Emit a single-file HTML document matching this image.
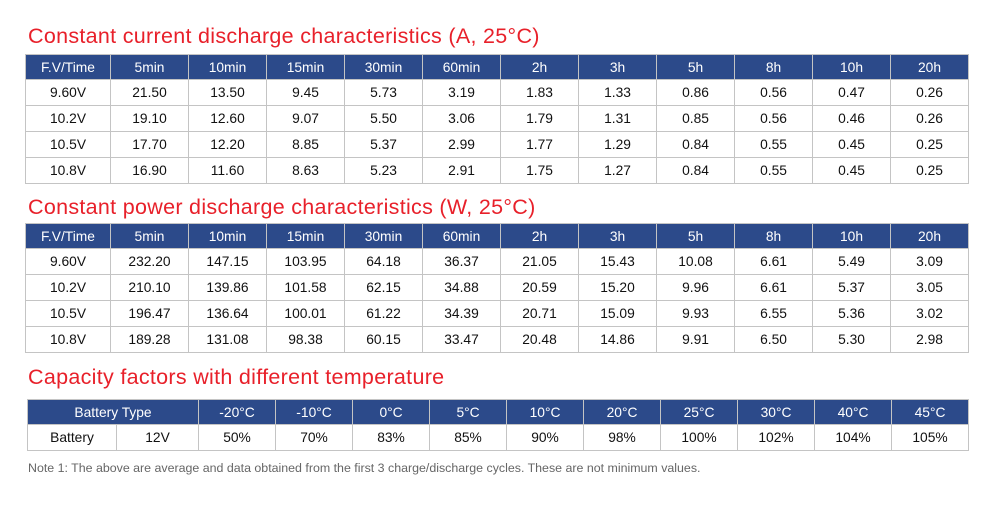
<!DOCTYPE html>
<html><head><meta charset="utf-8"><style>
body{margin:0;width:1000px;height:514px;background:#fff;font-family:"Liberation Sans",Arial,sans-serif;position:relative;overflow:hidden}
.t{position:absolute;left:28px;color:#e8202a;font-size:21.5px;margin:0;font-weight:normal;white-space:nowrap;letter-spacing:0.3px}
table{position:absolute;border-collapse:collapse;table-layout:fixed}
td,th{border:1px solid #c4c4c4;text-align:center;font-size:13.8px;padding:0;color:#111}
th{background:#2c4a8a;color:#fff;font-weight:normal;border-color:#c4c4c4}
.note{position:absolute;left:28px;top:461px;font-size:12.4px;color:#666;white-space:nowrap}
</style></head><body>
<h1 class="t" style="top:24px">Constant current discharge characteristics (A, 25°C)</h1>
<table id="t1" style="left:25px;top:54px;width:943px"></table>
<h1 class="t" style="top:195px">Constant power discharge characteristics (W, 25°C)</h1>
<table id="t2" style="left:25px;top:223px;width:943px"></table>
<h1 class="t" style="top:365px">Capacity factors with different temperature</h1>
<table id="t3" style="left:27px;top:399px;width:941px">
<colgroup><col style="width:89px"><col style="width:82px"><col span="10" style="width:77px"></colgroup>
<tr style="height:25px"><th colspan="2">Battery Type</th><th>-20°C</th><th>-10°C</th><th>0°C</th><th>5°C</th><th>10°C</th><th>20°C</th><th>25°C</th><th>30°C</th><th>40°C</th><th>45°C</th></tr>
<tr style="height:26px"><td>Battery</td><td>12V</td><td>50%</td><td>70%</td><td>83%</td><td>85%</td><td>90%</td><td>98%</td><td>100%</td><td>102%</td><td>104%</td><td>105%</td></tr>
</table>
<div class="note">Note 1: The above are average and data obtained from the first 3 charge/discharge cycles. These are not minimum values.</div>
<script>
const times=["5min","10min","15min","30min","60min","2h","3h","5h","8h","10h","20h"];
const voltages=["9.60V","10.2V","10.5V","10.8V"];
const currentVals=[
["21.50","13.50","9.45","5.73","3.19","1.83","1.33","0.86","0.56","0.47","0.26"],
["19.10","12.60","9.07","5.50","3.06","1.79","1.31","0.85","0.56","0.46","0.26"],
["17.70","12.20","8.85","5.37","2.99","1.77","1.29","0.84","0.55","0.45","0.25"],
["16.90","11.60","8.63","5.23","2.91","1.75","1.27","0.84","0.55","0.45","0.25"]];
const powerVals=[
["232.20","147.15","103.95","64.18","36.37","21.05","15.43","10.08","6.61","5.49","3.09"],
["210.10","139.86","101.58","62.15","34.88","20.59","15.20","9.96","6.61","5.37","3.05"],
["196.47","136.64","100.01","61.22","34.39","20.71","15.09","9.93","6.55","5.36","3.02"],
["189.28","131.08","98.38","60.15","33.47","20.48","14.86","9.91","6.50","5.30","2.98"]];
function build(id,vals){
  const t=document.getElementById(id);
  let h='<colgroup><col style="width:85px"><col span="11" style="width:78px"></colgroup>';
  h+='<tr style="height:25px"><th>F.V/Time</th>'+times.map(x=>'<th>'+x+'</th>').join('')+'</tr>';
  vals.forEach((r,i)=>{h+='<tr style="height:26px"><td>'+voltages[i]+'</td>'+r.map(v=>'<td>'+v+'</td>').join('')+'</tr>';});
  t.innerHTML=h;
  t.querySelectorAll('th').forEach(e=>{
    
    
  });
  t.querySelectorAll('td').forEach(e=>{
    
    
  });
}
build('t1',currentVals);
build('t2',powerVals);
</script>
</body></html>
